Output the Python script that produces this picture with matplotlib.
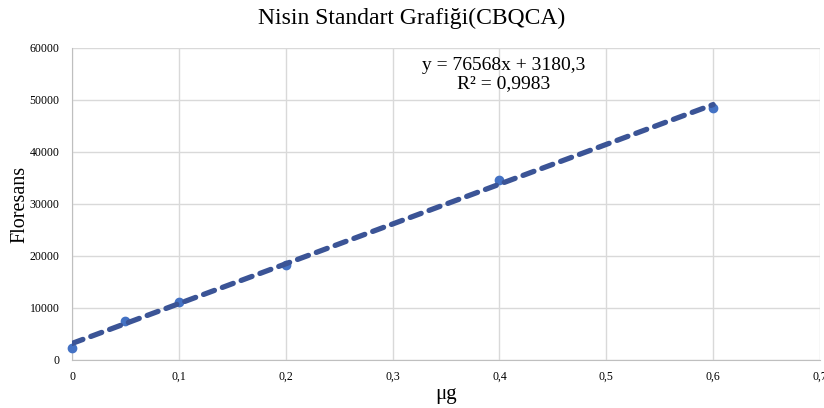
import matplotlib
matplotlib.use('Agg')
import numpy as np
import matplotlib.pyplot as plt

# standard curve measurements
conc = [0, 0.05, 0.1, 0.2, 0.4, 0.6]
fluor = [2250, 7550, 11150, 18300, 34700, 48550]

# linear trendline
slope = 76568
intercept = 3180.3
r2 = 0.9983

x_ticks = [0, 0.1, 0.2, 0.3, 0.4, 0.5, 0.6, 0.7]
x_labels = ['0', '0,1', '0,2', '0,3', '0,4', '0,5', '0,6', '0,7']
y_ticks = [0, 10000, 20000, 30000, 40000, 50000, 60000]

plt.rcParams['font.family'] = ['Liberation Serif', 'DejaVu Serif']

fig = plt.figure(figsize=(8.24, 4.08), dpi=100)
ax = fig.add_axes([72/824., 48/408., 748/824., 312/408.])

ax.set_xlim(0, 0.7)
ax.set_ylim(0, 60000)
ax.set_xticks(x_ticks)
ax.set_xticklabels(x_labels)
ax.set_yticks(y_ticks)
ax.grid(True, color='#d9d9d9', linewidth=1.0)
ax.set_axisbelow(True)
for s in ['top', 'right']:
    ax.spines[s].set_visible(False)
for s in ['left', 'bottom']:
    ax.spines[s].set_color('#bfbfbf')
ax.tick_params(length=0, labelsize=8.5)
ax.yaxis.set_tick_params(pad=9)
ax.xaxis.set_tick_params(pad=8)

ax.plot(conc, fluor, 'o', color='#4472c4', markersize=6, zorder=3, clip_on=False)

xs = np.array([0, 0.6])
line, = ax.plot(xs, slope * xs + intercept, '--', color='#3b5496', linewidth=3.8,
                dashes=(2.2, 1.6), zorder=4)
line.set_dash_capstyle('round')

eq = 'y = 76568x + 3180,3\nR² = 0,9983'
ax.text(0.404, 58300, eq, ha='center', va='top', multialignment='center',
        fontsize=14, linespacing=1.1)

fig.text(0.5, 0.955, 'Nisin Standart Grafiği(CBQCA)', ha='center', va='center', fontsize=17)
ax.set_xlabel('μg', fontsize=15, labelpad=1)
ax.set_ylabel('Floresans', fontsize=14.5, va='center')
ax.yaxis.set_label_coords(-0.069, 0.5)

plt.savefig('out.png', dpi=100)
